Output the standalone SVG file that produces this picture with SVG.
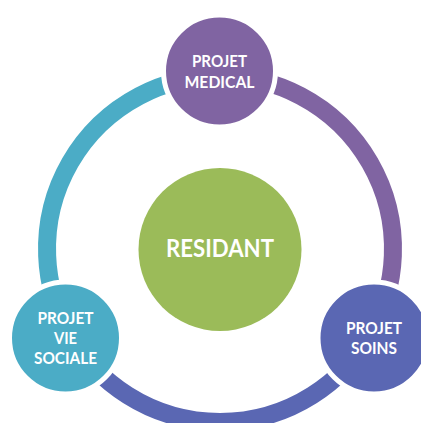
<svg xmlns="http://www.w3.org/2000/svg" width="421" height="423" viewBox="0 0 421 423">
<style>
.arc{fill:none;stroke-width:18}
.node{stroke:#fff;stroke-width:5}
.t{font-family:Lato,"Liberation Sans",sans-serif;font-weight:bold;fill:#fff;text-anchor:middle;font-size:17px}
.big{font-size:24px}
</style>
<rect width="421" height="423" fill="#fff"/>
<g id="connectors">
<path class="arc" stroke="#8064A2" d="M220,76 A173,173 0 0 1 369.8,335.5"/>
<path class="arc" stroke="#5A67B3" d="M369.8,335.5 A173,173 0 0 1 70.2,335.5"/>
<path class="arc" stroke="#4BACC6" d="M70.2,335.5 A173,173 0 0 1 220,76"/>
</g>
<g id="residant">
<circle cx="220" cy="249.5" r="81.5" fill="#9BBB59"/>
<text class="t big" x="220" y="257" textLength="108" lengthAdjust="spacingAndGlyphs">RESIDANT</text>
</g>
<g id="projet-medical">
<circle class="node" cx="219.5" cy="71" r="56" fill="#8064A2"/>
<text class="t" x="219.5" y="67" textLength="55" lengthAdjust="spacingAndGlyphs">PROJET</text>
<text class="t" x="219.5" y="87.5" textLength="70" lengthAdjust="spacingAndGlyphs">MEDICAL</text>
</g>
<g id="projet-soins">
<circle class="node" cx="374" cy="338" r="56" fill="#5A67B3"/>
<text class="t" x="374" y="333.5" textLength="56" lengthAdjust="spacingAndGlyphs">PROJET</text>
<text class="t" x="374" y="354" textLength="46" lengthAdjust="spacingAndGlyphs">SOINS</text>
</g>
<g id="projet-vie-sociale">
<circle class="node" cx="65.5" cy="338" r="56" fill="#4BACC6"/>
<text class="t" x="65.5" y="323.5" textLength="56" lengthAdjust="spacingAndGlyphs">PROJET</text>
<text class="t" x="65.5" y="344" textLength="23" lengthAdjust="spacingAndGlyphs">VIE</text>
<text class="t" x="65.5" y="364" textLength="63" lengthAdjust="spacingAndGlyphs">SOCIALE</text>
</g>
</svg>
